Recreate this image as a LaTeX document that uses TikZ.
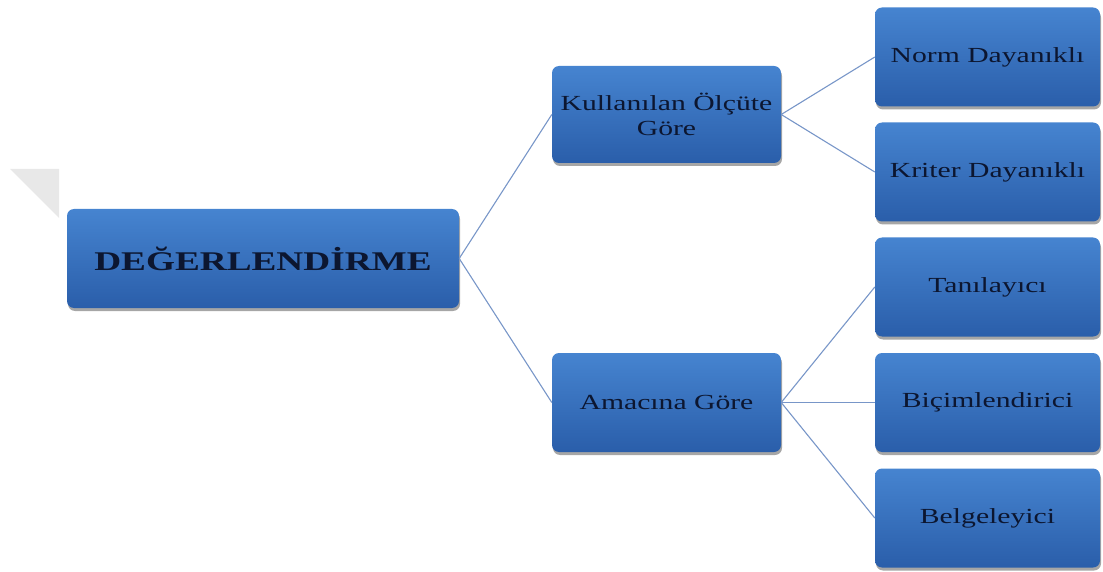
\documentclass[tikz,border=0pt]{standalone}
\usepackage{fontspec}
\setmainfont{Liberation Serif}
\newfontfamily\boxfont[FakeStretch=1.38]{Liberation Serif}
\usetikzlibrary{shadows}
\definecolor{boxtop}{RGB}{70,132,208}
\definecolor{boxbot}{RGB}{42,94,170}
\definecolor{boxtext}{RGB}{12,22,48}
\definecolor{linkblue}{RGB}{120,150,200}
\tikzset{
  box/.style={rectangle, rounded corners=7pt, top color=boxtop, bottom color=boxbot,
    draw=none, text=boxtext, align=center, inner sep=2pt,
    font=\boxfont\fontsize{21.5}{25}\selectfont,
    drop shadow={shadow xshift=1pt, shadow yshift=-3pt, fill=black, opacity=.35}},
  leaf/.style={box, minimum width=225pt, minimum height=99pt},
  link/.style={draw=linkblue, line width=1.1pt}
}
\begin{document}
\begin{tikzpicture}[x=1pt, y=-1pt]
\useasboundingbox (0,0) rectangle (1103,572);
\fill[black!9] (10,169) -- (59,169) -- (59,218) -- cycle; %%corner mark
%%root
\node[box, minimum width=392pt, minimum height=99pt,
  font=\boxfont\bfseries\fontsize{27}{30}\selectfont] (root) at (263,258.5) {DEĞERLENDİRME};
%%middle column
\node[box, minimum width=229pt, minimum height=97pt] (olcut) at (666.5,114.5) {Kullanılan Ölçüte\\Göre};
\node[box, minimum width=229pt, minimum height=99pt] (amac) at (666.5,402.5) {Amacına Göre};
%%right column
\node[leaf] (norm) at (987.5,57) {Norm Dayanıklı};
\node[leaf] (kriter) at (987.5,172) {Kriter Dayanıklı};
\node[leaf] (tani) at (987.5,287) {Tanılayıcı};
\node[leaf] (bicim) at (987.5,402.5) {Biçimlendirici};
\node[leaf] (belge) at (987.5,518) {Belgeleyici};
%%links
\draw[link] (root.east) -- (olcut.west);
\draw[link] (root.east) -- (amac.west);
\draw[link] (olcut.east) -- (norm.west);
\draw[link] (olcut.east) -- (kriter.west);
\draw[link] (amac.east) -- (tani.west);
\draw[link] (amac.east) -- (bicim.west);
\draw[link] (amac.east) -- (belge.west);
\end{tikzpicture}
\end{document}
